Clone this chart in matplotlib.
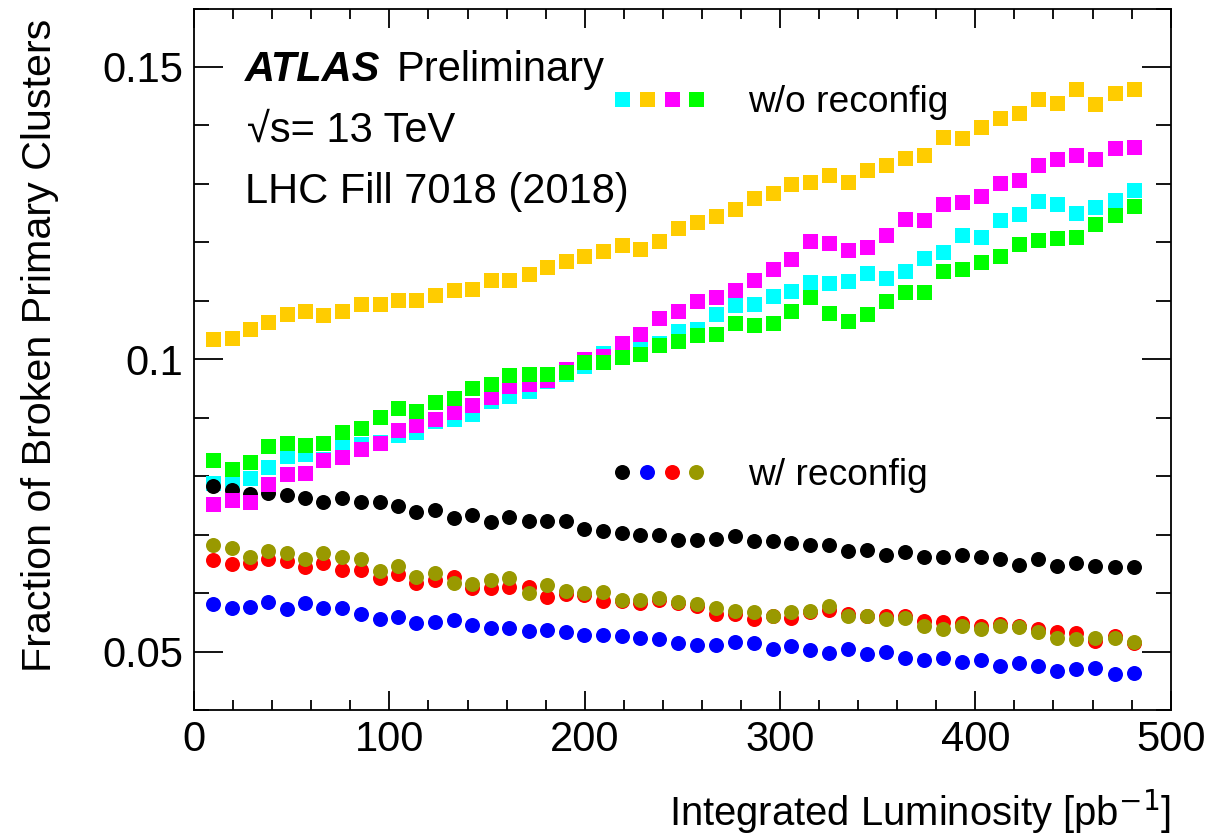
import matplotlib
matplotlib.use("Agg")
import matplotlib.pyplot as plt
from matplotlib.ticker import MultipleLocator, FuncFormatter
from matplotlib.legend_handler import HandlerTuple

plt.rcParams['font.family'] = ['Liberation Sans', 'DejaVu Sans']
plt.rcParams['mathtext.fontset'] = 'custom'
plt.rcParams['mathtext.rm'] = 'Liberation Sans'
plt.rcParams['mathtext.it'] = 'Liberation Sans:italic'

# integrated luminosity of each point [pb^-1]
lumi = [9.9, 19.3, 28.7, 38.0, 47.5, 56.8, 66.2, 75.9, 85.5, 95.1,
        104.6, 113.6, 123.4, 133.1, 142.5, 151.9, 161.4, 171.3, 180.9, 190.3,
        199.8, 209.5, 219.0, 228.5, 238.2, 247.6, 257.7, 267.2, 277.1, 286.8,
        296.3, 305.8, 315.3, 325.2, 334.8, 344.4, 354.4, 364.0, 373.9, 383.6,
        393.3, 402.9, 412.6, 422.3, 432.1, 441.9, 451.5, 461.3, 471.3, 481.1]

# without reconfiguration (squares)
cyan_wo = [0.0789, 0.0786, 0.0797, 0.0816, 0.0834, 0.0838, 0.0830, 0.0853, 0.0855, 0.0859,
           0.0871, 0.0875, 0.0894, 0.0898, 0.0907, 0.0928, 0.0938, 0.0945, 0.0962, 0.0975,
           0.0988, 0.1011, 0.1013, 0.1028, 0.1028, 0.1049, 0.1051, 0.1077, 0.1092, 0.1094,
           0.1108, 0.1116, 0.1132, 0.1130, 0.1134, 0.1147, 0.1139, 0.1151, 0.1174, 0.1183,
           0.1213, 0.1209, 0.1238, 0.1248, 0.1270, 0.1265, 0.1250, 0.1260, 0.1273, 0.1290]
yellow_wo = [0.1034, 0.1036, 0.1052, 0.1064, 0.1077, 0.1082, 0.1075, 0.1082, 0.1095, 0.1095,
             0.1101, 0.1101, 0.1110, 0.1118, 0.1121, 0.1135, 0.1135, 0.1145, 0.1158, 0.1168,
             0.1176, 0.1185, 0.1195, 0.1189, 0.1202, 0.1224, 0.1234, 0.1245, 0.1257, 0.1276,
             0.1285, 0.1299, 0.1303, 0.1315, 0.1304, 0.1324, 0.1332, 0.1345, 0.1350, 0.1380,
             0.1379, 0.1398, 0.1412, 0.1421, 0.1445, 0.1439, 0.1463, 0.1437, 0.1456, 0.1463]
magenta_wo = [0.0753, 0.0759, 0.0755, 0.0786, 0.0803, 0.0805, 0.0828, 0.0833, 0.0847, 0.0857,
              0.0879, 0.0887, 0.0898, 0.0909, 0.0922, 0.0936, 0.0955, 0.0958, 0.0965, 0.0983,
              0.1000, 0.1005, 0.1028, 0.1044, 0.1070, 0.1082, 0.1099, 0.1107, 0.1118, 0.1136,
              0.1155, 0.1172, 0.1202, 0.1199, 0.1187, 0.1192, 0.1213, 0.1240, 0.1238, 0.1265,
              0.1269, 0.1279, 0.1301, 0.1306, 0.1333, 0.1342, 0.1349, 0.1342, 0.1362, 0.1363]
green_wo = [0.0827, 0.0813, 0.0824, 0.0851, 0.0857, 0.0854, 0.0856, 0.0876, 0.0883, 0.0901,
            0.0917, 0.0912, 0.0927, 0.0934, 0.0950, 0.0958, 0.0973, 0.0974, 0.0974, 0.0978,
            0.0996, 0.0995, 0.1004, 0.1009, 0.1024, 0.1032, 0.1042, 0.1044, 0.1062, 0.1059,
            0.1062, 0.1082, 0.1107, 0.1079, 0.1065, 0.1078, 0.1099, 0.1115, 0.1115, 0.1151,
            0.1154, 0.1166, 0.1176, 0.1197, 0.1204, 0.1208, 0.1209, 0.1232, 0.1246, 0.1262]

# with reconfiguration (circles)
black_w = [0.0784, 0.0777, 0.0769, 0.0772, 0.0767, 0.0762, 0.0756, 0.0762, 0.0756, 0.0755,
           0.0749, 0.0738, 0.0742, 0.0728, 0.0734, 0.0721, 0.0730, 0.0723, 0.0723, 0.0723,
           0.0710, 0.0706, 0.0703, 0.0699, 0.0699, 0.0691, 0.0690, 0.0692, 0.0698, 0.0689,
           0.0689, 0.0686, 0.0682, 0.0682, 0.0672, 0.0673, 0.0665, 0.0671, 0.0662, 0.0661,
           0.0666, 0.0662, 0.0659, 0.0648, 0.0658, 0.0646, 0.0652, 0.0646, 0.0644, 0.0645]
blue_w = [0.0581, 0.0575, 0.0576, 0.0585, 0.0572, 0.0583, 0.0574, 0.0574, 0.0565, 0.0556,
          0.0559, 0.0548, 0.0550, 0.0554, 0.0546, 0.0540, 0.0540, 0.0535, 0.0537, 0.0534,
          0.0528, 0.0528, 0.0527, 0.0524, 0.0522, 0.0515, 0.0511, 0.0511, 0.0516, 0.0515,
          0.0504, 0.0509, 0.0502, 0.0498, 0.0504, 0.0495, 0.0499, 0.0489, 0.0486, 0.0489,
          0.0482, 0.0485, 0.0475, 0.0480, 0.0475, 0.0467, 0.0470, 0.0471, 0.0462, 0.0464]
red_w = [0.0657, 0.0649, 0.0652, 0.0659, 0.0655, 0.0645, 0.0652, 0.0639, 0.0639, 0.0626,
         0.0632, 0.0618, 0.0622, 0.0628, 0.0608, 0.0609, 0.0611, 0.0611, 0.0594, 0.0598,
         0.0597, 0.0586, 0.0586, 0.0583, 0.0589, 0.0583, 0.0578, 0.0564, 0.0565, 0.0555,
         0.0561, 0.0558, 0.0568, 0.0571, 0.0565, 0.0561, 0.0561, 0.0561, 0.0552, 0.0551,
         0.0548, 0.0544, 0.0547, 0.0544, 0.0539, 0.0534, 0.0532, 0.0518, 0.0526, 0.0514]
olive_w = [0.0683, 0.0677, 0.0662, 0.0672, 0.0669, 0.0659, 0.0668, 0.0661, 0.0659, 0.0638,
           0.0646, 0.0628, 0.0634, 0.0618, 0.0615, 0.0622, 0.0625, 0.0600, 0.0613, 0.0604,
           0.0600, 0.0602, 0.0589, 0.0589, 0.0591, 0.0584, 0.0581, 0.0575, 0.0569, 0.0568,
           0.0561, 0.0568, 0.0569, 0.0578, 0.0561, 0.0561, 0.0555, 0.0557, 0.0543, 0.0539,
           0.0544, 0.0539, 0.0544, 0.0542, 0.0534, 0.0524, 0.0521, 0.0524, 0.0524, 0.0517]

fig = plt.figure(figsize=(12.09, 8.35), dpi=100)
ax = fig.add_axes([0.1605, 0.1497, 0.8078, 0.8401])

ms = 10.8
pairs = [(cyan_wo, '#00ffff', black_w, '#000000'),
         (yellow_wo, '#ffcc00', blue_w, '#0000ff'),
         (magenta_wo, '#ff00ff', red_w, '#ff0000'),
         (green_wo, '#00ff00', olive_w, '#999900')]

# each module: w/o reconfig first, then w/ reconfig on top
sq_lines = []
circ_lines = []
for wo, c_wo, w, c_w in pairs:
    l1, = ax.plot(lumi, wo, 's', color=c_wo, ms=ms, mew=0)
    l2, = ax.plot(lumi, w, 'o', color=c_w, ms=ms, mew=0)
    sq_lines.append(l1)
    circ_lines.append(l2)

ax.set_xlim(0, 500)
ax.set_ylim(0.04, 0.16)

ax.xaxis.set_major_locator(MultipleLocator(100))
ax.xaxis.set_minor_locator(MultipleLocator(20))
ax.yaxis.set_major_locator(MultipleLocator(0.05))
ax.yaxis.set_minor_locator(MultipleLocator(0.01))
ax.yaxis.set_major_formatter(FuncFormatter(lambda v, p: '%g' % round(v, 3)))

ax.tick_params(which='both', direction='in', top=True, right=True,
               width=1.3, labelsize=30)
ax.tick_params(axis='x', which='major', length=14, pad=7)
ax.tick_params(axis='x', which='minor', length=7)
ax.tick_params(axis='y', which='major', length=21, pad=8)
ax.tick_params(axis='y', which='minor', length=10.8)
for s in ax.spines.values():
    s.set_linewidth(1.3)

ax.set_xlabel(r'Integrated Luminosity [pb$^{\mathsf{-1}}$]', fontsize=28.8, ha='right')
ax.xaxis.set_label_coords(1.0, -0.11)
ax.set_ylabel('Fraction of Broken Primary Clusters', fontsize=29.7, ha='right')
ax.yaxis.set_label_coords(-0.138, 0.986)

ax.text(0.0522, 0.8966, 'ATLAS', transform=ax.transAxes, fontsize=30,
        fontweight='bold', fontstyle='italic', va='baseline')
ax.text(0.2078, 0.8966, 'Preliminary', transform=ax.transAxes, fontsize=30, va='baseline')
ax.text(0.0542, 0.8097, '\u221as= 13 TeV', transform=ax.transAxes, fontsize=30, va='baseline')
ax.text(0.0522, 0.7227, 'LHC Fill 7018 (2018)', transform=ax.transAxes, fontsize=30, va='baseline')

leg_kw = dict(handler_map={tuple: HandlerTuple(ndivide=None, pad=0)},
              loc='center left', frameon=False, handlelength=2.66,
              handletextpad=1.05, borderpad=0, borderaxespad=0, fontsize=26.7)
leg1 = ax.legend([tuple(sq_lines)], ['w/o reconfig'], bbox_to_anchor=(0.426, 0.866), **leg_kw)
ax.add_artist(leg1)
ax.legend([tuple(circ_lines)], ['w/ reconfig'], bbox_to_anchor=(0.426, 0.335), **leg_kw)

fig.savefig('out.png', dpi=100)
